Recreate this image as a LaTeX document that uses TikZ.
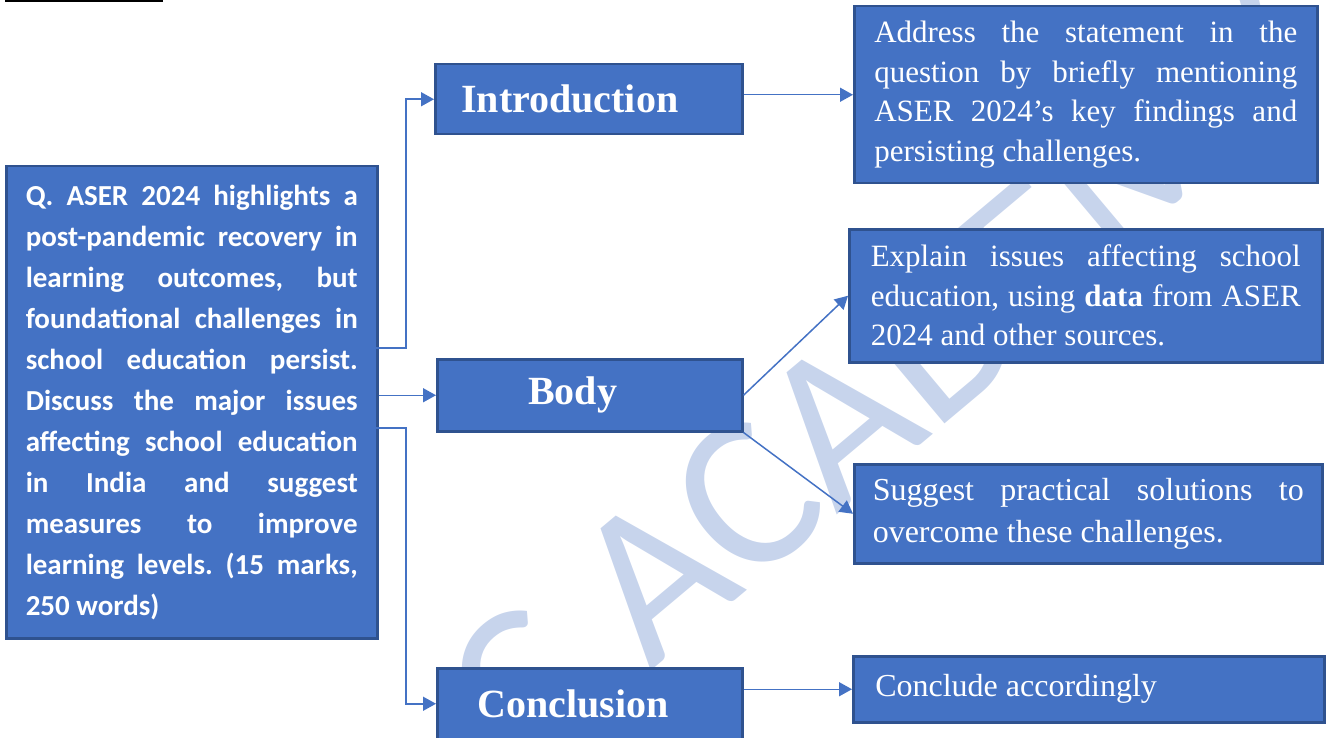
\documentclass[tikz,border=0pt]{standalone}
\usepackage{fontspec}
\setmainfont{Liberation Serif}
\newfontfamily\qfont{Carlito}
\usepackage{tikz}
\usetikzlibrary{arrows.meta, positioning, calc}
\definecolor{blkfill}{HTML}{4472C4}
\definecolor{blkline}{HTML}{2F528F}
\definecolor{wmblue}{HTML}{C7D4EC}
\tolerance=10000 \hbadness=10000
\frenchspacing
\tikzset{
    blk/.style={draw=blkline, fill=blkfill, line width=2.5pt, text=white, anchor=north west, inner sep=0pt},
    head/.style={blk, font=\fontsize{40}{48}\selectfont\bfseries, align=left},
    desc/.style={blk, align=justify},
    conn/.style={-{Triangle[length=13pt, width=14pt]}, blkfill, line width=1.5pt},
    wmark/.style={text=wmblue, font=\qfont\fontsize{220}{220}\selectfont, inner sep=0pt}
}

\begin{document}
\begin{tikzpicture}[x=1pt, y=-1pt]
    \useasboundingbox (0,0) rectangle (1330,738);
    % Watermark
    \begin{scope}
        \clip (0,0) rectangle (1330,738);
        \node[wmark, rotate=40, anchor=base west] (wm) at (522,779) {C ACADEMY};
    \end{scope}

    % Heading rule
    \draw[line width=2.5pt] (5,1) -- (163,1);

    % Question
    \node[blk, minimum width=371pt, minimum height=472pt, text width=332pt, align=justify,
          font=\qfont\bfseries\fontsize{29}{41}\selectfont] (q) at (5,165)
        {Q. ASER 2024 highlights a\linebreak post-pandemic recovery in\linebreak learning outcomes, but\linebreak foundational challenges in\linebreak school education persist.\linebreak Discuss the major issues\linebreak affecting school education\linebreak in India and suggest\linebreak measures to improve\linebreak learning levels. (15 marks,\linebreak 250 words)};

    % Sections
    \node[head, minimum width=307pt, minimum height=70pt, text width=255pt] (intro) at (434,63) {Introduction};
    \node[head, minimum width=305pt, minimum height=72pt, text width=123pt] (body) at (436,358) {Body};
    \node[head, minimum width=305pt, minimum height=71pt, text width=225pt] (concl) at (436,667) {Conclusion};

    % Descriptions
    \node[desc, minimum width=463pt, minimum height=177pt, text width=423pt,
          font=\fontsize{31}{39.5}\selectfont] (adesc) at (853,5)
        {Address the statement in the\linebreak question by briefly mentioning\linebreak ASER 2024’s key findings and\linebreak persisting challenges.};
    \node[desc, minimum width=473pt, minimum height=133pt, text width=430pt,
          font=\fontsize{31}{39.5}\selectfont] (bdesc) at (848,228)
        {Explain issues affecting school\linebreak education, using \textbf{data} from ASER\linebreak 2024 and other sources.};
    \node[desc, minimum width=468pt, minimum height=99pt, text width=431pt,
          font=\fontsize{32}{42}\selectfont] (cdesc) at (853,463)
        {Suggest practical solutions to\linebreak overcome these challenges.};
    \node[desc, minimum width=471pt, minimum height=66pt, text width=427pt,
          font=\fontsize{32}{40}\selectfont] (ddesc) at (852,655)
        {Conclude accordingly};

    % Connectors
    \coordinate (qa) at (376,348);
    \coordinate (qc) at (376,428);
    \draw[conn] (qa) -- ++(30,0) |- (intro.west);
    \draw[conn] (q.east |- body.west) -- (body.west);
    \draw[conn] (qc) -- ++(30,0) |- (concl.west);
    \draw[conn] (intro.east |- adesc.west) -- (adesc.west);
    \draw[conn] (body.east) -- (bdesc.west);
    \draw[conn] (body.south east) -- (cdesc.west);
    \draw[conn] (concl.east |- ddesc.west) -- (ddesc.west);
\end{tikzpicture}
\end{document}
